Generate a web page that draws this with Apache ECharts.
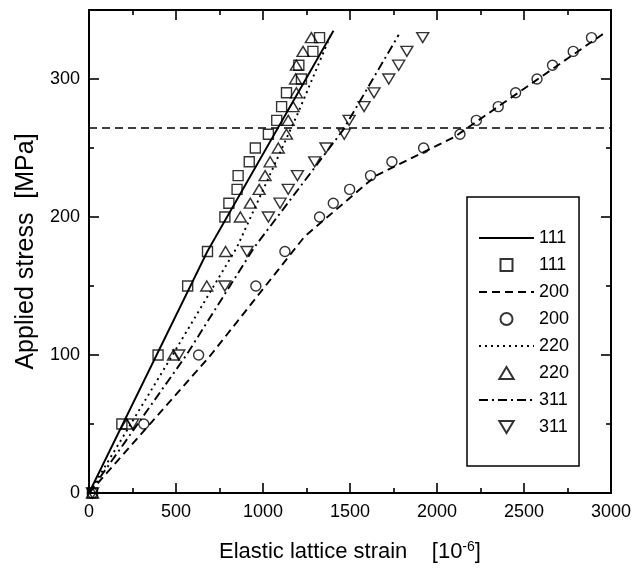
<!DOCTYPE html>
<html>
<head>
<meta charset="utf-8">
<script src="https://cdn.jsdelivr.net/npm/echarts@6/dist/echarts.min.js"></script>
<style>
  html, body { margin: 0; padding: 0; background: #fff; }
  #chart { width: 634px; height: 571px; }
</style>
</head>
<body>
<div id="chart"></div>
<script>
  // applied stress levels (MPa), same for every reflection
  var stress = [0, 50, 100, 150, 175, 200, 210, 220, 230, 240, 250, 260, 270, 280, 290, 300, 310, 320, 330];

  // measured elastic lattice strain (10^-6) per reflection
  var strain111 = [20, 189, 397, 567, 681, 781, 804, 851, 857, 921, 956, 1031, 1079, 1107, 1135, 1221, 1206, 1287, 1325];
  var strain200 = [20, 315, 630, 959, 1126, 1325, 1404, 1498, 1618, 1741, 1923, 2132, 2226, 2352, 2452, 2575, 2664, 2783, 2888];
  var strain220 = [20, 217, 486, 677, 785, 870, 927, 978, 1012, 1041, 1088, 1135, 1145, 1173, 1192, 1187, 1192, 1230, 1278];
  var strain311 = [20, 251, 516, 781, 908, 1031, 1098, 1145, 1198, 1297, 1362, 1467, 1495, 1581, 1638, 1723, 1780, 1827, 1918];

  // model curves [strain, stress]
  var model111 = [[0, 0], [680, 175], [1405, 335]];
  var model200 = [[0, 0], [700, 100], [1240, 186], [1650, 230], [2100, 258], [2970, 334]];
  var model220 = [[0, 0], [480, 100], [850, 178], [1200, 275], [1390, 332]];
  var model311 = [[0, 0], [560, 100], [950, 178], [1460, 263], [1780, 332]];

  var yieldStress = 265;

  var xTicks = [0, 500, 1000, 1500, 2000, 2500, 3000];
  var yTicks = [0, 100, 200, 300];
  var yMax = 350;

  var FONT = "'Liberation Sans', Arial, sans-serif";

  function pairs(xs) {
    return xs.map(function (x, i) { return [x, stress[i]]; });
  }

  function modelLine(name, data, dash) {
    return {
      name: name,
      type: 'line',
      data: data,
      symbol: 'none',
      silent: true,
      z: 2,
      itemStyle: { color: 'rgba(0,0,0,0)', borderWidth: 0 },
      lineStyle: { color: '#000', width: 1.9, type: dash }
    };
  }

  function measured(name, xs, symbol, size) {
    return {
      name: name,
      type: 'scatter',
      data: pairs(xs),
      symbol: symbol,
      symbolSize: size,
      z: 3,
      itemStyle: { color: 'rgba(255,255,255,0)', borderColor: '#000', borderWidth: 1.4 }
    };
  }

  function axisCommon(extra) {
    var base = {
      type: 'value',
      axisLine: { onZero: false, lineStyle: { color: '#000', width: 2 } },
      axisTick: { inside: true, length: 10, lineStyle: { color: '#000', width: 1.6 } },
      minorTick: { show: true, splitNumber: 2, length: 5, lineStyle: { color: '#000', width: 1.6 } },
      splitLine: { show: false },
      axisLabel: { show: false }
    };
    return Object.assign(base, extra);
  }

  var chart = echarts.init(document.getElementById('chart'));

  var s200line = modelLine('200', model200, [8, 5]);
  s200line.markLine = {
    silent: true,
    symbol: 'none',
    animation: false,
    label: { show: false },
    lineStyle: { color: '#000', width: 1.6, type: [8, 5] },
    data: [{ yAxis: yieldStress }]
  };

  chart.setOption({
    animation: false,
    backgroundColor: '#fff',
    grid: { left: 89, top: 10, width: 527, height: 483 },
    xAxis: [
      axisCommon({
        position: 'bottom',
        min: xTicks[0], max: xTicks[xTicks.length - 1], interval: xTicks[1] - xTicks[0],
        axisLabel: {
          show: true, color: '#000', fontSize: 18, fontFamily: FONT, margin: 10,
          formatter: function (v) { return String(v); }
        },
        name: '{t|Elastic lattice strain    [10}{s|-6}{t|]}',
        nameLocation: 'middle',
        nameGap: 47,
        nameTextStyle: {
          rich: {
            t: { fontSize: 22, fontFamily: FONT, color: '#000' },
            s: { fontSize: 14, fontFamily: FONT, color: '#000', verticalAlign: 'top', padding: [0, 0, 10, 0] }
          }
        }
      }),
      axisCommon({
        position: 'top',
        min: xTicks[0], max: xTicks[xTicks.length - 1], interval: xTicks[1] - xTicks[0]
      })
    ],
    yAxis: [
      axisCommon({
        position: 'left',
        min: 0, max: yMax, interval: yTicks[1] - yTicks[0],
        axisLabel: {
          show: true, color: '#000', fontSize: 18, fontFamily: FONT, margin: 9,
          formatter: function (v) { return yTicks.indexOf(v) >= 0 ? String(v) : ''; }
        },
        name: 'Applied stress  [MPa]',
        nameLocation: 'middle',
        nameGap: 41,
        nameTextStyle: { fontSize: 25, fontFamily: FONT, color: '#000' }
      }),
      axisCommon({
        position: 'right',
        min: 0, max: yMax, interval: yTicks[1] - yTicks[0]
      })
    ],
    legend: {
      orient: 'vertical',
      left: 467,
      top: 197,
      padding: [32, 10, 30, 11],
      itemWidth: 55,
      itemHeight: 12,
      itemGap: 9,
      borderColor: '#000',
      borderWidth: 1.5,
      borderRadius: 0,
      selectedMode: false,
      formatter: function (name) { return name.trim(); },
      textStyle: { color: '#000', fontSize: 18, fontFamily: FONT, lineHeight: 17 },
      data: ['111', '111 ', '200', '200 ', '220', '220 ', '311', '311 ']
    },
    series: [
      modelLine('111', model111, 'solid'),
      measured('111 ', strain111, 'path://M0,0L10,0L10,10L0,10Z', 10),
      s200line,
      measured('200 ', strain200, 'circle', 10),
      modelLine('220', model220, [2, 4]),
      measured('220 ', strain220, 'path://M6,0L12,10L0,10Z', [12, 10]),
      modelLine('311', model311, [9, 4, 2, 4]),
      measured('311 ', strain311, 'path://M0,0L12,0L6,10Z', [12, 10])
    ]
  });
</script>
</body>
</html>
